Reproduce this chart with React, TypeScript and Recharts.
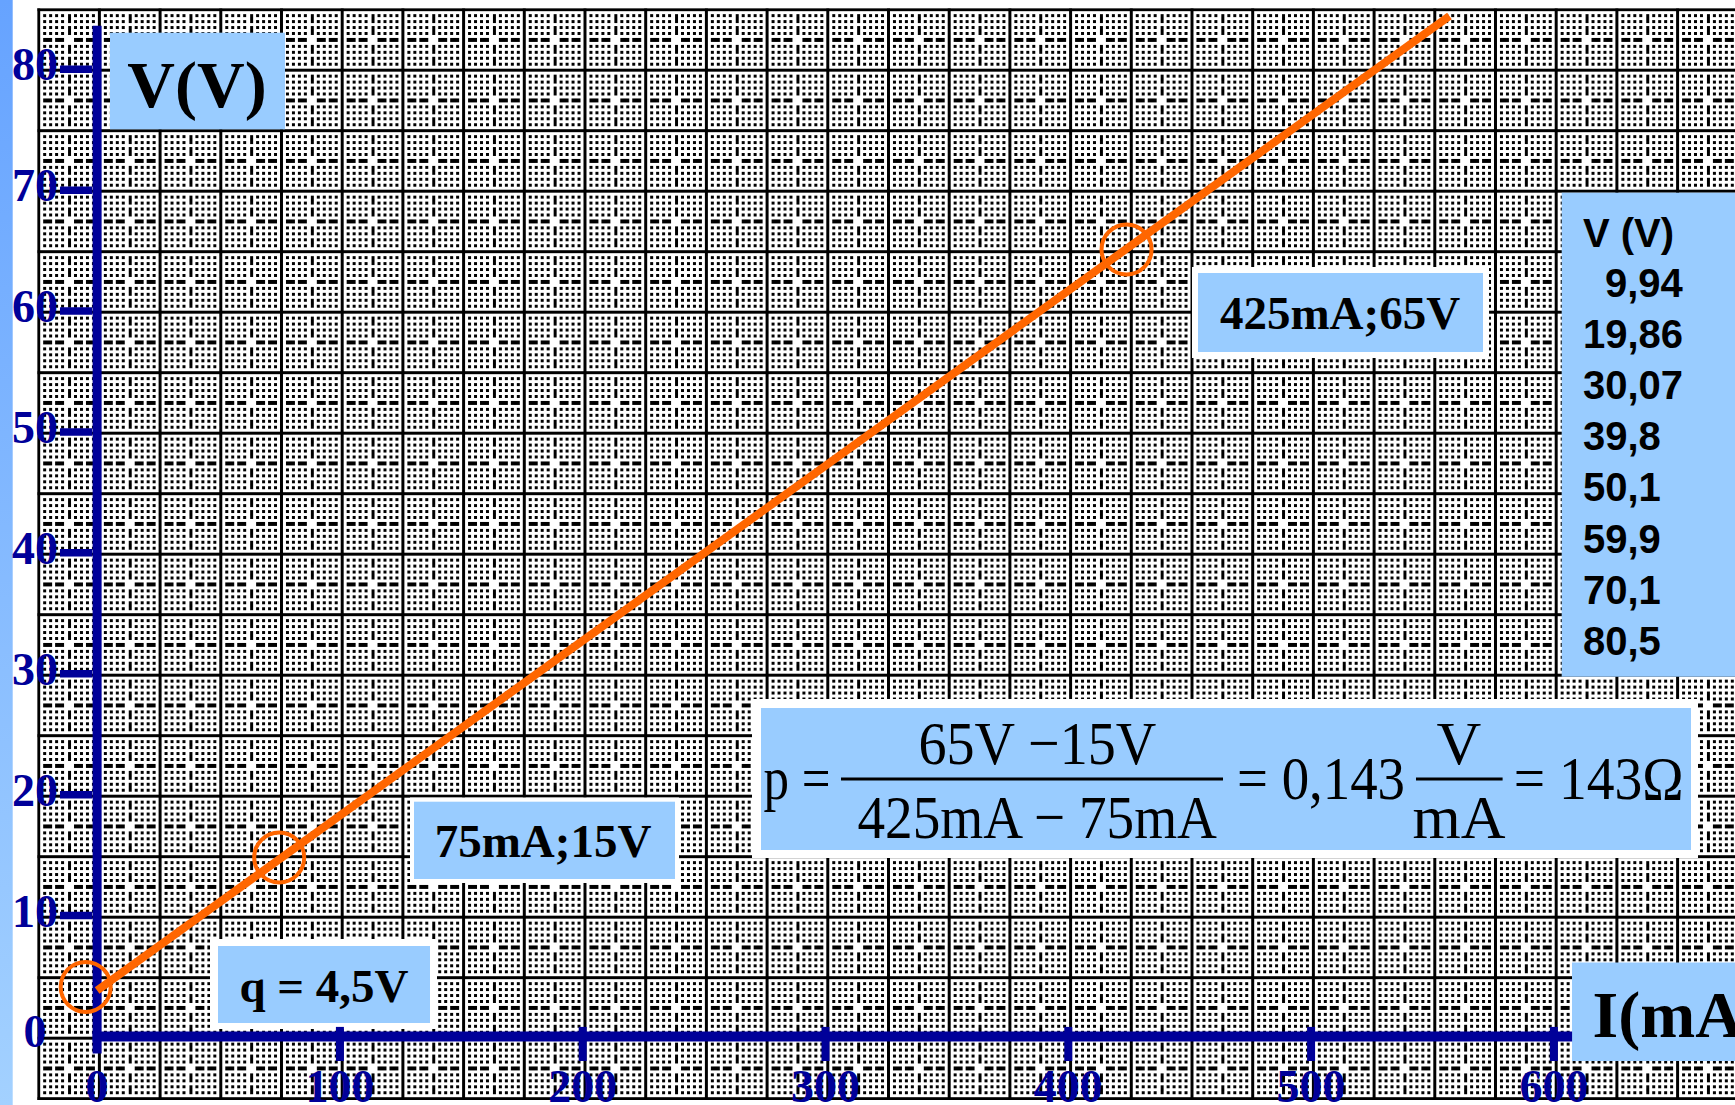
import { ComposedChart, Line, Scatter, XAxis, YAxis, ReferenceLine } from 'recharts';

const W = 1735;
const H = 1105;
const NAVY = '#000099';
const ORANGE = '#ff6600';
const BOX = '#99ccff';
const SERIF = "'Times New Roman', 'Liberation Serif', serif";
const SANS = "Arial, 'Liberation Sans', sans-serif";

// axis ticks
const currentTicks = [0, 100, 200, 300, 400, 500, 600];
const voltageTicks = [0, 10, 20, 30, 40, 50, 60, 70, 80];

// straight line drawn by hand across the sheet (mA, V)
const fitI = [0, 557];
const fitV = [3.8, 84.4];

// the three ringed points
const ringI = [-4.7, 75, 424];
const ringV = [4.1, 14.8, 65.1];

// measured values in the table at the right
const tableHeader = 'V (V)';
const tableValues = ['9,94', '19,86', '30,07', '39,8', '50,1', '59,9', '70,1', '80,5'];

const fitData = fitI.map((i, k) => ({ i, v: fitV[k] }));
const ringData = ringI.map((i, k) => ({ i, v: ringV[k] }));

// sheet is wider than the axes: domain covers the whole page
const X_DOMAIN: [number, number] = [-40, 674.6];
const Y_DOMAIN: [number, number] = [-5.67, 85.73];

const CELL_W = 60.7;
const CELL_H = 60.5;
const minor = [1, 2, 3, 4, 6, 7, 8, 9];
const pairs = [1, 3, 6, 8];
const DOT = 3;

function Paper() {
  const sx = CELL_W / 10;
  const sy = CELL_H / 10;
  const h = DOT / 2;
  return (
    <svg width={W} height={H} style={{ position: 'absolute', left: 0, top: 0 }}>
      <defs>
        <linearGradient id="stripe" x1="0" y1="0" x2="0" y2="1">
          <stop offset="0%" stopColor="#66a3ff" />
          <stop offset="100%" stopColor="#a3d1ff" />
        </linearGradient>
        <pattern id="mm" patternUnits="userSpaceOnUse" x={38.7 - 1.5} y={9.7 - 1.5} width={CELL_W} height={CELL_H}>
          <g shapeRendering="crispEdges">
            <rect width={CELL_W} height={CELL_H} fill="#fff" />
            {minor.map(k =>
              minor.map(m => (
                <rect key={`${k}-${m}`} x={1.5 + k * sx - h} y={1.5 + m * sy - h} width={DOT} height={DOT} fill="#000" />
              ))
            )}
            {pairs.map(k => (
              <rect key={`h${k}`} x={1.5 + k * sx - h} y={1.5 + 5 * sy - h} width={sx + DOT} height={DOT} fill="#000" />
            ))}
            {pairs.map(k => (
              <rect key={`v${k}`} x={1.5 + 5 * sx - h} y={1.5 + k * sy - h} width={DOT} height={sy + DOT} fill="#000" />
            ))}
            <rect x={0} y={0} width={3} height={CELL_H} fill="#000" />
            <rect x={0} y={0} width={CELL_W} height={3} fill="#000" />
          </g>
        </pattern>
      </defs>
      <rect width={W} height={H} fill="#fff" />
      <rect x={0} y={0} width={12.7} height={H} fill="url(#stripe)" />
      <rect x={37.2} y={8.2} width={W - 37.2} height={1100 - 8.2} fill="url(#mm)" />

      {/* axis captions */}
      <rect x={110} y={32.7} width={175} height={96.6} fill={BOX} />
      <text x={197} y={106.7} textAnchor="middle" fontFamily={SERIF} fontWeight="bold" fontSize={66}>V(V)</text>
      <rect x={1572} y={962.5} width={W - 1572} height={98.5} fill={BOX} />
      <text x={1592.5} y={1036.5} fontFamily={SERIF} fontWeight="bold" fontSize={66}>I(mA)</text>

      {/* point notes */}
      <rect x={210} y={939} width={227} height={90} fill="#fff" />
      <rect x={218} y={946} width={212} height={77} fill={BOX} />
      <text x={324} y={1001.7} textAnchor="middle" fontFamily={SERIF} fontWeight="bold" fontSize={47}>q = 4,5V</text>

      <rect x={410} y={797.5} width={269} height={85.5} fill="#fff" />
      <rect x={414} y={801.7} width={261} height={77.3} fill={BOX} />
      <text x={543} y={857} textAnchor="middle" fontFamily={SERIF} fontWeight="bold" fontSize={47}>75mA;15V</text>

      <rect x={1192} y={267} width={297} height={91} fill="#fff" />
      <rect x={1198} y={273} width={285} height={79} fill={BOX} />
      <text x={1340} y={329} textAnchor="middle" fontFamily={SERIF} fontWeight="bold" fontSize={47}>425mA;65V</text>

      {/* table */}
      <rect x={1561.7} y={192.7} width={W - 1561.7} height={484} fill={BOX} />
      <text x={1583} y={246.7} fontFamily={SANS} fontWeight="bold" fontSize={40}>{tableHeader}</text>
      {tableValues.map((t, k) => (
        <text key={t} x={parseFloat(t.replace(',', '.')) < 10 ? 1605 : 1583} y={297 + k * 51.1} fontFamily={SANS} fontWeight="bold" fontSize={40}>{t}</text>
      ))}

      {/* slope calculation */}
      <rect x={752} y={699} width={946} height={159} fill="#fff" />
      <rect x={761} y={708} width={930} height={142} fill={BOX} />
      <g fontFamily={SERIF} fontSize={62} fill="#000">
        <text x={763.5} y={799} textLength={67} lengthAdjust="spacingAndGlyphs">p =</text>
        <rect x={841} y={777.5} width={382} height={3} fill="#000" />
        <text x={918.4} y={763.5} textLength={238} lengthAdjust="spacingAndGlyphs">65V −15V</text>
        <text x={857.5} y={837.6} textLength={359.5} lengthAdjust="spacingAndGlyphs">425mA − 75mA</text>
        <text x={1237} y={799} textLength={168} lengthAdjust="spacingAndGlyphs">= 0,143</text>
        <text x={1459} y={763.5} textAnchor="middle">V</text>
        <rect x={1416} y={777.5} width={86.6} height={3} fill="#000" />
        <text x={1459} y={837.6} textAnchor="middle">mA</text>
        <text x={1513.7} y={799} textLength={170} lengthAdjust="spacingAndGlyphs">= 143Ω</text>
      </g>
    </svg>
  );
}

const tickText = { fontFamily: SERIF, fontWeight: 'bold', fontSize: 46, fill: NAVY } as const;

const xLabel = (t: number) => ({ viewBox }: any) => (
  <text x={viewBox.x} y={1102} textAnchor="middle" {...tickText}>{t}</text>
);

const yLabel = (t: number) => ({ viewBox }: any) => (
  <text x={35} y={viewBox.y + 11} textAnchor="middle" {...tickText}>{t}</text>
);

const Ring = (p: any) => <circle cx={p.cx} cy={p.cy} r={25} fill="none" stroke={ORANGE} strokeWidth={4} />;

export default function App() {
  return (
    <div style={{ position: 'absolute', left: 0, top: 0, width: W, height: H, background: '#fff' }}>
      <Paper />
      <div style={{ position: 'absolute', left: 0, top: 0 }}>
        <ComposedChart width={W} height={H} margin={{ top: 0, right: 0, bottom: 0, left: 0 }}>
          <XAxis type="number" dataKey="i" domain={X_DOMAIN} allowDataOverflow hide />
          <YAxis type="number" dataKey="v" domain={Y_DOMAIN} allowDataOverflow hide />
          {voltageTicks.map(t => (
            <ReferenceLine
              key={`yt${t}`}
              segment={[{ x: -15.3, y: t }, { x: -2, y: t }]}
              stroke={NAVY}
              strokeWidth={t === 0 ? 0 : 7.5}
              ifOverflow="visible"
              label={yLabel(t)}
            />
          ))}
          {currentTicks.map(t => (
            <ReferenceLine
              key={`xt${t}`}
              segment={[{ x: t, y: 0.79 }, { x: t, y: -2.03 }]}
              stroke={NAVY}
              strokeWidth={t === 0 ? 0 : 8}
              ifOverflow="visible"
              label={xLabel(t)}
            />
          ))}
          <ReferenceLine segment={[{ x: 0, y: -1.4 }, { x: 0, y: 83.6 }]} stroke={NAVY} strokeWidth={9} ifOverflow="visible" />
          <ReferenceLine segment={[{ x: -1.9, y: 0 }, { x: 607.5, y: 0 }]} stroke={NAVY} strokeWidth={10} ifOverflow="visible" />
          <Line data={fitData} dataKey="v" stroke={ORANGE} strokeWidth={8} dot={false} activeDot={false} isAnimationActive={false} />
          <Scatter data={ringData} dataKey="v" shape={Ring} isAnimationActive={false} />
        </ComposedChart>
      </div>
    </div>
  );
}
